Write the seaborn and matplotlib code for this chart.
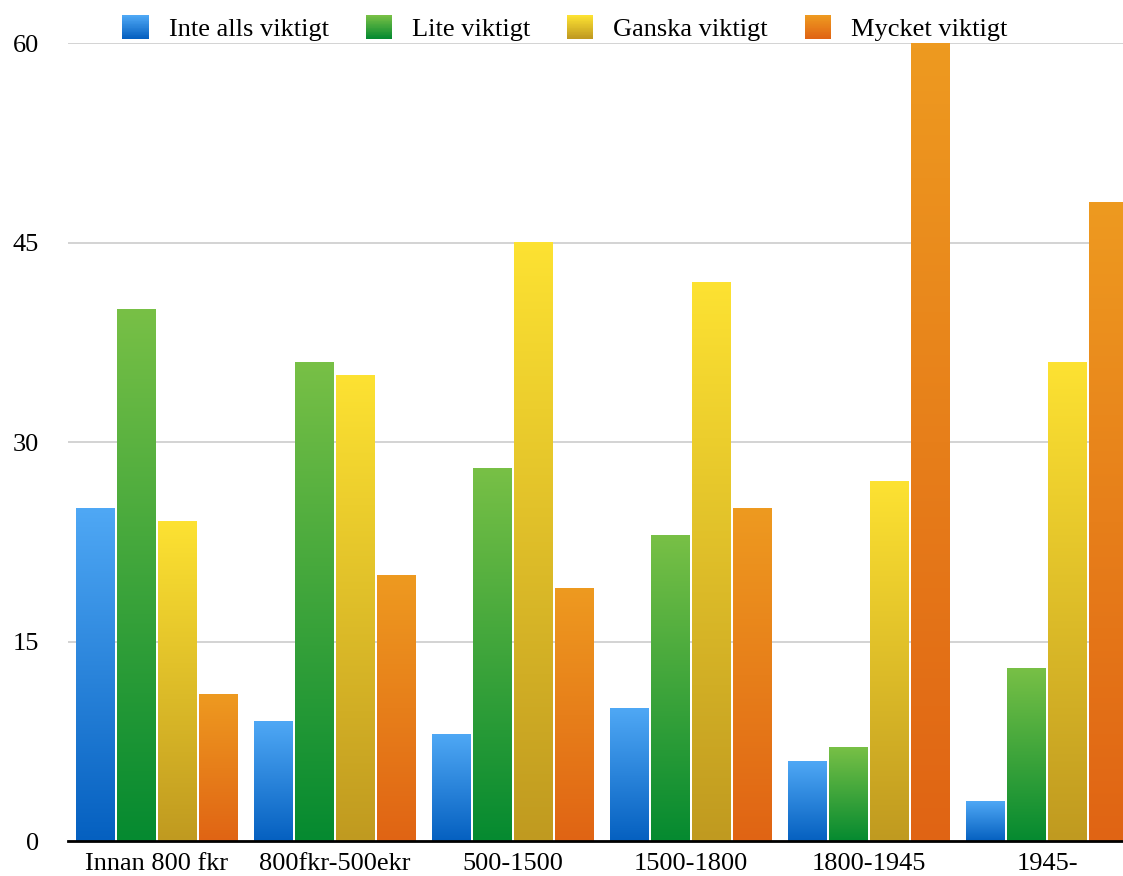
import numpy as np
import pandas as pd
import matplotlib
matplotlib.use('Agg')
import matplotlib.pyplot as plt
from matplotlib.colors import LinearSegmentedColormap, to_rgb
from matplotlib.legend_handler import HandlerBase
from matplotlib.patches import Rectangle, Patch
import seaborn as sns

# Data
PERIODS = ['Innan 800 fkr', '800fkr-500ekr', '500-1500', '1500-1800', '1800-1945', '1945-']
SERIES = ['Inte alls viktigt', 'Lite viktigt', 'Ganska viktigt', 'Mycket viktigt']
inte_alls = [25, 9, 8, 10, 6, 3]
lite = [40, 36, 28, 23, 7, 13]
ganska = [24, 35, 45, 42, 27, 36]
mycket = [11, 20, 19, 25, 60, 48]
Y_TICKS = [0, 15, 30, 45, 60]

# gradient colours (top, bottom) per series
GRAD = {
    'Inte alls viktigt': ('#4fa8f5', '#0560c0'),
    'Lite viktigt': ('#78c046', '#058a30'),
    'Ganska viktigt': ('#fde232', '#c09a20'),
    'Mycket viktigt': ('#ee9a20', '#e06414'),
}

df = pd.DataFrame({
    'period': PERIODS * 4,
    'serie': [s for s in SERIES for _ in PERIODS],
    'value': inte_alls + lite + ganska + mycket,
})


class GradHandler(HandlerBase):
    """Legend square drawn as a vertical gradient."""
    def __init__(self, top, bot, n=30):
        super().__init__()
        self.top, self.bot, self.n = np.array(to_rgb(top)), np.array(to_rgb(bot)), n

    def create_artists(self, legend, orig_handle, xdescent, ydescent,
                       width, height, fontsize, trans):
        arts = []
        for i in range(self.n):
            t = i / (self.n - 1)
            c = self.bot * (1 - t) + self.top * t
            arts.append(Rectangle((-xdescent, -ydescent + height * i / self.n),
                                  width, height / self.n * 1.05,
                                  facecolor=c, edgecolor='none', transform=trans))
        return arts


sns.set_theme(style='white')
plt.rcParams['font.family'] = ['Liberation Serif', 'DejaVu Serif']
plt.rcParams['text.color'] = 'black'

fig = plt.figure(figsize=(11.23, 8.76), dpi=100)
ax = fig.add_axes([68 / 1123, 35 / 876, 1068 / 1123, 798 / 876])

palette = {s: GRAD[s][1] for s in SERIES}
sns.barplot(data=df, x='period', y='value', hue='serie', hue_order=SERIES,
            order=PERIODS, palette=palette, width=0.92, gap=0.06,
            ax=ax, legend=False, saturation=1)

# replace flat bars with vertical gradients
grad = np.linspace(0, 1, 256).reshape(-1, 1)
for k, s in enumerate(SERIES):
    cmap = LinearSegmentedColormap.from_list(s, [GRAD[s][1], GRAD[s][0]])
    for p in ax.containers[k].patches:
        x, w, h = p.get_x(), p.get_width(), p.get_height()
        ax.imshow(grad, extent=[x, x + w, 0, h], origin='lower',
                  aspect='auto', cmap=cmap, zorder=2, interpolation='bilinear')
        p.set_visible(False)

ax.set_xlim(-0.5, 5.5)
ax.set_ylim(0, 60)
ax.set_yticks(Y_TICKS)
ax.yaxis.grid(True, color='#cccccc', linewidth=1.2)
ax.set_axisbelow(True)
for side in ['left', 'right', 'top']:
    ax.spines[side].set_visible(False)
ax.spines['bottom'].set_color('black')
ax.spines['bottom'].set_linewidth(2)
ax.spines['bottom'].set_zorder(3)
ax.tick_params(axis='y', labelsize=19, pad=21, length=0, labelcolor='black')
ax.tick_params(axis='x', labelsize=19, pad=9, length=0, labelcolor='black')
ax.set_xlabel('')
ax.set_ylabel('')

handles = [Patch(label=s) for s in SERIES]
hmap = {h: GradHandler(*GRAD[s]) for h, s in zip(handles, SERIES)}
fig.legend(handles=handles, labels=SERIES, handler_map=hmap,
           loc='upper center', bbox_to_anchor=(0.503, 1.01), ncol=4,
           frameon=False, fontsize=19, handlelength=1.0, handleheight=1.0,
           handletextpad=0.75, columnspacing=1.4, labelcolor='black')

fig.savefig('out.png', dpi=100)
